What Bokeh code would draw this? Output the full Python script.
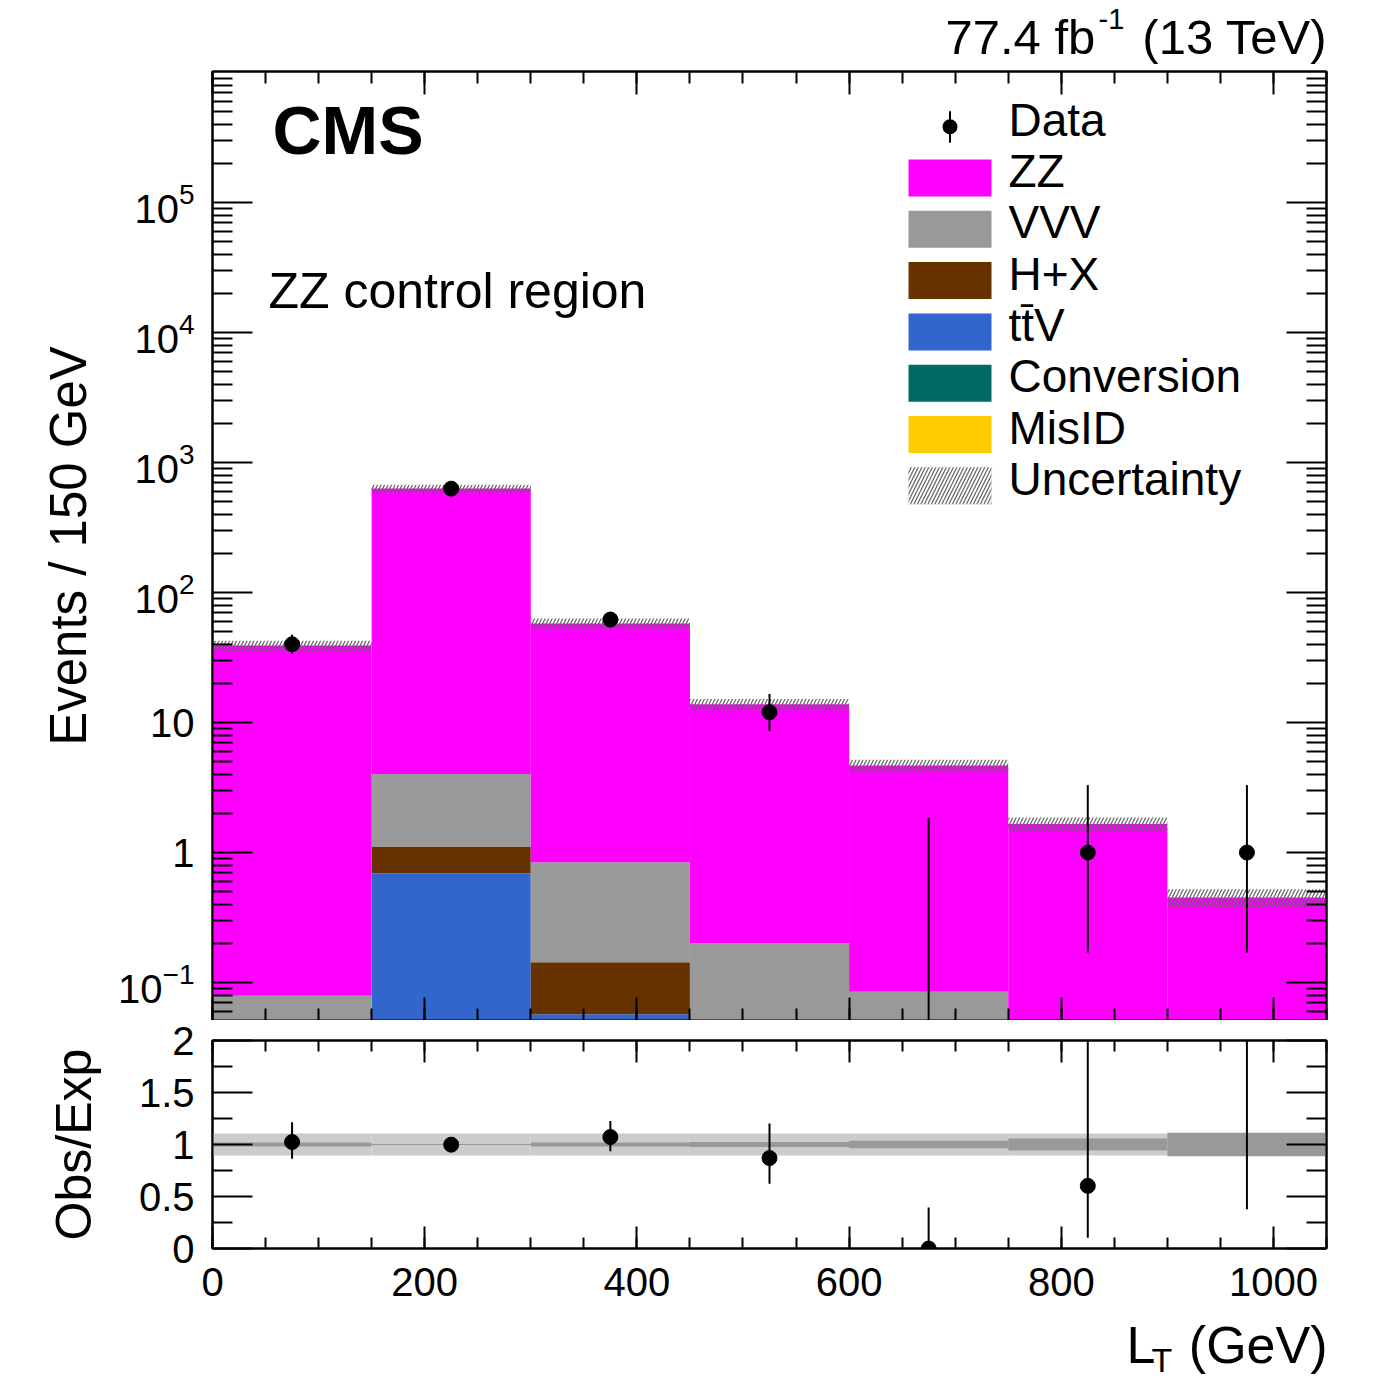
import numpy as np
from bokeh.plotting import figure
from bokeh.layouts import column
from bokeh.models import (Range1d, FixedTicker, LinearAxis, LogAxis, Label,
                          BoxAnnotation, CustomJSTickFormatter, LogTickFormatter)
from bokeh.embed import file_html
from bokeh.resources import INLINE

# ------------------------------------------------------------------ data
bin_edges = [0, 150, 300, 450, 600, 750, 900, 1050]

# stacked backgrounds (events / bin), bottom -> top of the stack
misid = [0.0, 0.0, 0.0, 0.0, 0.0, 0.0, 0.0]
conversion = [0.0, 0.0, 0.0, 0.0, 0.0, 0.0, 0.0]
ttv = [0.0, 0.69, 0.057, 0.0, 0.0, 0.0, 0.0]
hx = [0.0, 0.42, 0.086, 0.0, 0.0, 0.0, 0.0]
vvv = [0.079, 2.9, 0.70, 0.20, 0.085, 0.03, 0.01]
zz = [39.0, 627.0, 57.0, 13.6, 4.58, 1.63, 0.44]

data_counts = [40, 630, 62, 12, 0, 1, 1]
data_err_lo = [6.3, 25.1, 7.9, 3.4, 0.0, 0.83, 0.83]
data_err_hi = [7.4, 26.1, 8.9, 4.6, 1.84, 2.3, 2.3]

pred_unc_rel = [0.09, 0.07, 0.09, 0.10, 0.11, 0.12, 0.16]
ratio_band_total = [0.105, 0.105, 0.105, 0.105, 0.105, 0.105, 0.105]
ratio_band_stat = [0.02, 0.005, 0.02, 0.025, 0.035, 0.057, 0.113]

y_tick_values = [0.1, 1, 10, 100, 1000, 10000, 100000]
y_plain_labels = {1: "1", 10: "10"}          # other y ticks shown as 10^n
ratio_tick_values = [0, 0.5, 1, 1.5, 2]
ratio_tick_labels = ["0", "0.5", "1", "1.5", "2"]
x_tick_values = [0, 200, 400, 600, 800, 1000]
x_tick_labels = ["0", "200", "400", "600", "800", "1000"]

legend_labels = ["Data", "ZZ", "VVV", "H+X", "tt\u0304V", "Conversion", "MisID", "Uncertainty"]
colors = {"ZZ": "#ff00ff", "VVV": "#999999", "H+X": "#663300",
          "ttV": "#3366cc", "Conversion": "#006b63", "MisID": "#ffcc00"}

FONT = "Liberation Sans"
HATCH = dict(hatch_pattern="/", hatch_color="#606060", hatch_scale=7, hatch_weight=1.2)

# ------------------------------------------------------------------ helpers
edges = np.array(bin_edges, float)
left, right = edges[:-1], edges[1:]
centers = 0.5 * (left + right)
Y_MIN, Y_MAX = 0.051, 1.02e6
FLOOR = 1e-3

x_minor = [float(v) for v in np.arange(0, 1051, 50)]
y_minor = [m * 10.0 ** e for e in range(-2, 6) for m in range(2, 10)]


def blank():
    return CustomJSTickFormatter(code="return ''")


def style_axis(ax, major_in, minor_in, labels=True, size="40px"):
    ax.major_tick_in = major_in
    ax.major_tick_out = 0
    ax.minor_tick_in = minor_in
    ax.minor_tick_out = 0
    ax.axis_line_width = 2
    ax.axis_line_color = "black"
    ax.major_tick_line_width = 2
    ax.minor_tick_line_width = 2
    ax.major_tick_line_color = "black"
    ax.minor_tick_line_color = "black"
    ax.major_label_text_font = FONT
    ax.major_label_text_color = "black"
    ax.axis_label_text_font = FONT
    ax.axis_label_text_color = "black"
    ax.axis_label_text_font_style = "normal"
    if labels:
        ax.major_label_text_font_size = size
    else:
        ax.formatter = blank()
        ax.major_label_text_font_size = "1px"
        ax.major_label_standoff = 0


def lab(fig, x, y, text, size_px, style="normal", align="left"):
    # y is the wanted baseline (screen units from the frame bottom); the
    # renderer centres the capitals on y, so shift by ~0.38 em
    fig.add_layout(Label(x=x, y=y + 0.38 * size_px, x_units="screen", y_units="screen",
                         text=text, text_font=FONT, text_font_size=f"{size_px}px",
                         text_font_style=style, text_align=align,
                         text_baseline="alphabetic", text_color="black"))


def strip(height):
    s = figure(width=1378, height=height, x_range=Range1d(0, 1), y_range=Range1d(0, 1),
               output_backend="svg", toolbar_location=None, title=None,
               x_axis_location=None, y_axis_location=None,
               min_border_left=212, min_border_right=0, min_border_top=0,
               min_border_bottom=0)
    s.xgrid.visible = False
    s.ygrid.visible = False
    s.outline_line_color = None
    return s


# ------------------------------------------------------------------ top strip
top = strip(65)
lab(top, 733, 10, "77.4 fb", 49)
lab(top, 886, 35, "-1", 29)
lab(top, 1115, 10, "(13 TeV)", 49, align="right")

# ------------------------------------------------------------------ main panel
p = figure(frame_width=1114, frame_height=949, x_range=Range1d(0, 1050),
           y_range=Range1d(Y_MIN, Y_MAX), y_axis_type="log", title=None,
           output_backend="svg", toolbar_location=None,
           min_border_left=212, min_border_right=52, min_border_top=6,
           min_border_bottom=0)
p.xgrid.visible = False
p.ygrid.visible = False
p.outline_line_color = "black"
p.outline_line_width = 2
p.background_fill_color = "white"

stack = [("MisID", misid), ("Conversion", conversion), ("ttV", ttv),
         ("H+X", hx), ("VVV", vvv), ("ZZ", zz)]
cum = np.zeros(len(centers))
for name, vals in stack:
    v = np.array(vals, float)
    p.quad(left=left, right=right, bottom=np.maximum(cum, FLOOR),
           top=np.maximum(cum + v, FLOOR), fill_color=colors[name], line_color=None)
    cum = cum + v
total = cum
unc = np.array(pred_unc_rel)
p.quad(left=left, right=right, bottom=total * (1 - unc), top=total * (1 + unc),
       fill_color=None, line_color=None, **HATCH)

dc = np.array(data_counts, float)
elo = np.array(data_err_lo)
ehi = np.array(data_err_hi)
p.segment(x0=centers, y0=np.maximum(dc - elo, FLOOR), x1=centers, y1=dc + ehi,
          line_color="black", line_width=2)
mask = dc > 0
p.scatter(x=centers[mask], y=dc[mask], size=15, color="black")

y_ticker = FixedTicker(ticks=y_tick_values, minor_ticks=y_minor)
x_ticker = FixedTicker(ticks=x_tick_values, minor_ticks=x_minor)

yax = p.yaxis[0]
yax.ticker = y_ticker
yax.formatter = LogTickFormatter(min_exponent=0)
yax.major_label_overrides = y_plain_labels
style_axis(yax, 40, 20)
yax.major_label_standoff = 18
yax.axis_label = "Events / 150 GeV"
yax.axis_label_text_font_size = "51px"
yax.axis_label_standoff = 18

xax = p.xaxis[0]
xax.ticker = x_ticker
style_axis(xax, 23, 12, labels=False)

rax = LogAxis(ticker=y_ticker)
style_axis(rax, 40, 20, labels=False)
p.add_layout(rax, "right")
tax = LinearAxis(ticker=x_ticker)
style_axis(tax, 23, 12, labels=False)
p.add_layout(tax, "above")

lab(p, 60, 865, "CMS", 68, style="bold")
lab(p, 56, 711, "ZZ control region", 50)

# legend (screen units, frame lower-left origin)
box_l, box_r, text_x = 696, 779, 796
row0, pitch, box_h = 875.3, 51.3, 37
legend_fill = [None, colors["ZZ"], colors["VVV"], colors["H+X"], colors["ttV"],
               colors["Conversion"], colors["MisID"], None]
scr = dict(left_units="screen", right_units="screen",
           bottom_units="screen", top_units="screen")
for i, text in enumerate(legend_labels):
    yb = row0 - pitch * i
    if i == 0:
        cx, cy = 0.5 * (box_l + box_r), yb + box_h / 2
        p.add_layout(BoxAnnotation(left=cx - 1, right=cx + 1, bottom=yb + 2.5, top=yb + 34,
                                   fill_color="black", fill_alpha=1, line_color=None, **scr))
        p.add_layout(BoxAnnotation(left=cx - 7.5, right=cx + 7.5, bottom=cy - 7.5, top=cy + 7.5,
                                   fill_color="black", fill_alpha=1, line_color=None,
                                   border_radius=8, **scr))
    elif legend_fill[i] is not None:
        p.add_layout(BoxAnnotation(left=box_l, right=box_r, bottom=yb, top=yb + box_h,
                                   fill_color=legend_fill[i], fill_alpha=1,
                                   line_color=None, **scr))
    else:
        p.add_layout(BoxAnnotation(left=box_l, right=box_r, bottom=yb, top=yb + box_h,
                                   fill_color="white", fill_alpha=1,
                                   line_color="#cccccc", line_width=1.5, **HATCH, **scr))
    lab(p, text_x, yb + 8, text, 46)

# ------------------------------------------------------------------ ratio panel
r = figure(frame_width=1114, frame_height=208, x_range=p.x_range, y_range=Range1d(0, 2),
           output_backend="svg", toolbar_location=None, title=None,
           min_border_left=212, min_border_right=52, min_border_top=20,
           min_border_bottom=64)
r.xgrid.visible = False
r.ygrid.visible = False
r.outline_line_color = "black"
r.outline_line_width = 2

bt = np.array(ratio_band_total)
bs = np.array(ratio_band_stat)
r.quad(left=left, right=right, bottom=1 - bt, top=1 + bt, fill_color="#cccccc", line_color=None)
r.quad(left=left, right=right, bottom=1 - bs, top=1 + bs, fill_color="#999999", line_color=None)

ratio = dc / total
r.segment(x0=centers, y0=(dc - elo) / total, x1=centers, y1=(dc + ehi) / total,
          line_color="black", line_width=2)
r.scatter(x=centers, y=ratio, size=15, color="black")

r_ticker = FixedTicker(ticks=ratio_tick_values, minor_ticks=[0.25, 0.75, 1.25, 1.75])
ryax = r.yaxis[0]
ryax.ticker = r_ticker
ryax.major_label_overrides = dict(zip(ratio_tick_values, ratio_tick_labels))
style_axis(ryax, 40, 20)
ryax.major_label_standoff = 18
ryax.axis_label = "Obs/Exp"
ryax.axis_label_text_font_size = "50px"
ryax.axis_label_standoff = 34

rxax = r.xaxis[0]
rxax.ticker = x_ticker
rxax.major_label_overrides = dict(zip(x_tick_values, x_tick_labels))
style_axis(rxax, 22, 11)
rxax.major_label_standoff = 19

rr = LinearAxis(ticker=r_ticker)
style_axis(rr, 40, 20, labels=False)
r.add_layout(rr, "right")
rt = LinearAxis(ticker=x_ticker)
style_axis(rt, 22, 11, labels=False)
r.add_layout(rt, "above")

# ------------------------------------------------------------------ bottom strip
bot = strip(68)
lab(bot, 914, 16, "L", 52)
lab(bot, 939, 8, "T", 34)
lab(bot, 1115, 16, "(GeV)", 52, align="right")

layout = column(top, p, r, bot, spacing=0)
open("out.html", "w").write(file_html(layout, INLINE))
